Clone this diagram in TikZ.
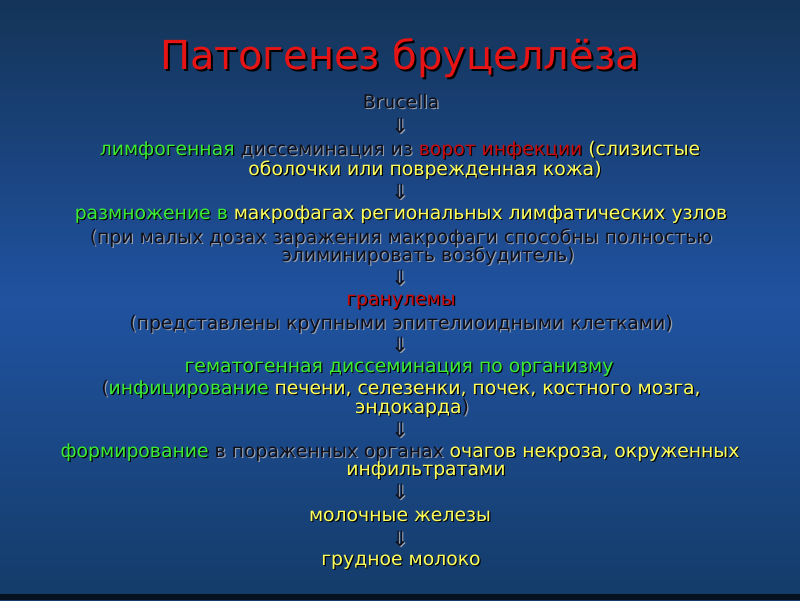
\documentclass[tikz,border=0pt]{standalone}
\usepackage{fontspec}
\setmainfont{DejaVu Sans}
\definecolor{grn}{RGB}{60,235,50}
\definecolor{ylw}{RGB}{255,255,90}
\definecolor{rd}{RGB}{200,10,10}
\definecolor{ttl}{RGB}{230,20,20}
\definecolor{drk}{RGB}{15,15,25}
\definecolor{lsh}{RGB}{150,158,172}
\definecolor{bgtop}{RGB}{20,52,88}
\definecolor{bgmid}{RGB}{32,82,160}
\definecolor{bgbot}{RGB}{20,60,105}
\newif\ifshd
\newcommand\G[1]{\ifshd\textcolor{black}{#1}\else\textcolor{grn}{#1}\fi}
\newcommand\Y[1]{\ifshd\textcolor{black}{#1}\else\textcolor{ylw}{#1}\fi}
\newcommand\R[1]{\ifshd\textcolor{black}{#1}\else\textcolor{rd}{#1}\fi}
\newcommand\K[1]{\ifshd\textcolor{lsh}{#1}\else\textcolor{drk}{#1}\fi}
% text with its drop shadow, in one box
\newcommand\shtxt[2]{\rlap{\shdtrue\hspace*{#1}\raisebox{-#1}[0pt][0pt]{#2}}#2}
\newcommand\tline[4]{\node[txt] (#1) at (#2,#3) {\shtxt{1.2pt}{#4}};}
\newcommand\darr[3]{\node[arr] (#1) at (#2,#3) {\shtxt{1.1pt}{\K{⇓}}};}
\begin{document}
\begin{tikzpicture}[x=1pt,y=-1pt,
  txt/.style={inner sep=0pt,anchor=mid,font=\fontsize{18.8}{21}\selectfont},
  arr/.style={inner sep=0pt,anchor=center,font=\fontsize{21}{24}\selectfont},
  title/.style={inner sep=0pt,anchor=mid,font=\fontsize{40}{46}\selectfont}]
\useasboundingbox (0,0) rectangle (800,600);
\shade[top color=bgtop,bottom color=bgbot,middle color=bgmid] (0,0) rectangle (800,600);
\fill[black!70!bgbot] (0,594) rectangle (800,600);
% title
\node[title] (t) at (400,67) {\rlap{\hspace*{2pt}\raisebox{-2pt}[0pt][0pt]{\textcolor{black}{Патогенез бруцеллёза}}}\textcolor{ttl}{Патогенез бруцеллёза}};
% body
\tline{br}{401}{106}{\K{Brucella}}
\darr{a1}{400}{126}
\tline{l1}{400}{153}{\G{лимфогенная} \K{диссеминация из} \R{ворот инфекции} \Y{(слизистые}}
\tline{l2}{425}{173}{\Y{оболочки или поврежденная кожа)}}
\darr{a2}{400}{192}
\tline{l3}{401}{217}{\G{размножение в} \Y{макрофагах региональных лимфатических узлов}}
\tline{l4}{401}{241}{\K{(при малых дозах заражения макрофаги способны полностью}}
\tline{l5}{428}{259}{\K{элиминировать возбудитель)}}
\darr{a3}{400}{278}
\tline{l6}{401}{303}{\R{гранулемы}}
\tline{l7}{401}{327}{\K{(представлены крупными эпителиоидными клетками)}}
\darr{a4}{400}{345}
\tline{l8}{399}{370}{\G{гематогенная диссеминация по организму}}
\tline{l9}{401}{392}{\K{(}\G{инфицирование} \Y{печени, селезенки, почек, костного мозга,}}
\tline{l10}{412}{411}{\Y{эндокарда}\K{)}}
\darr{a5}{400}{430}
\tline{l11}{400}{455}{\G{формирование} \K{в пораженных органах} \Y{очагов некроза, окруженных}}
\tline{l12}{426}{473}{\Y{инфильтратами}}
\darr{a6}{400}{492}
\tline{l13}{400}{519}{\Y{молочные железы}}
\darr{a7}{400}{539}
\tline{l14}{401}{563}{\Y{грудное молоко}}
\end{tikzpicture}
\end{document}
